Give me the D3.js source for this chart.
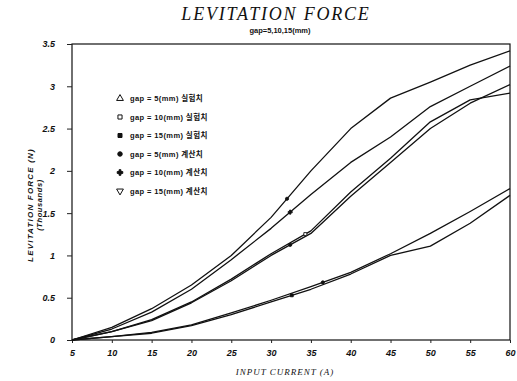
<!DOCTYPE html>
<html>
<head>
<meta charset="utf-8">
<script src="https://cdn.jsdelivr.net/npm/d3@7"></script>
<style>
  body { margin: 0; background: #fff; }
  svg { display: block; }
  .tick text { font-family: "Liberation Sans", sans-serif; font-weight: bold; font-style: italic; font-size: 9px; }
</style>
</head>
<body>
<div id="chart"></div>
<script>
// input current (A)
const current = [5, 10, 15, 20, 25, 30, 35, 40, 45, 50, 55, 60]
// levitation force (N, thousands)
const gap5Calc  = [0, 0.15, 0.37, 0.65, 1.0, 1.45, 2.0, 2.5, 2.86, 3.05, 3.25, 3.42]
const gap10Calc = [0, 0.13, 0.33, 0.6, 0.95, 1.32, 1.72, 2.1, 2.4, 2.76, 3.0, 3.24]
const gap10Exp  = [0, 0.1, 0.24, 0.45, 0.72, 1.02, 1.29, 1.75, 2.15, 2.58, 2.84, 2.92]
const gap5Exp   = [0, 0.1, 0.23, 0.44, 0.7, 1.0, 1.26, 1.7, 2.1, 2.5, 2.8, 3.02]
const gap15Exp  = [0, 0.04, 0.08, 0.17, 0.3, 0.45, 0.6, 0.78, 1.0, 1.11, 1.38, 1.71]
const gap15Calc = [0, 0.04, 0.09, 0.18, 0.32, 0.47, 0.63, 0.8, 1.02, 1.26, 1.52, 1.79]
// where a symbol sits on each curve (A)
const markAt = { gap5Calc: 32, gap10Calc: 32.4, gap10Exp: 34.3, gap5Exp: 32.4, gap15Exp: 32.6, gap15Calc: 36.5 }
const xTicks = [5, 10, 15, 20, 25, 30, 35, 40, 45, 50, 55, 60]
const yTicks = [0, 0.5, 1, 1.5, 2, 2.5, 3, 3.5]
const legendLabels = [
  ['triangle', 'gap = 5(mm) 실험치'],
  ['square', 'gap = 10(mm) 실험치'],
  ['squareFill', 'gap = 15(mm) 실험치'],
  ['dot', 'gap = 5(mm) 계산치'],
  ['cross', 'gap = 10(mm) 계산치'],
  ['triangleDown', 'gap = 15(mm) 계산치']
]

const series = [
  { key: 'gap5Calc', values: gap5Calc, sym: 'dot' },
  { key: 'gap10Calc', values: gap10Calc, sym: 'cross' },
  { key: 'gap10Exp', values: gap10Exp, sym: 'square' },
  { key: 'gap5Exp', values: gap5Exp, sym: 'dot' },
  { key: 'gap15Exp', values: gap15Exp, sym: 'squareFill' },
  { key: 'gap15Calc', values: gap15Calc, sym: 'dot' }
]

const W = 517, H = 381
const margin = { left: 72, right: 7, top: 44, bottom: 41 }

const svg = d3.select('#chart').append('svg').attr('width', W).attr('height', H)

const x = d3.scaleLinear().domain([5, 60]).range([margin.left, W - margin.right])
const y = d3.scaleLinear().domain([0, 3.5]).range([H - margin.bottom, margin.top])

// frame
svg.append('rect')
  .attr('x', x(5)).attr('y', y(3.5))
  .attr('width', x(60) - x(5)).attr('height', y(0) - y(3.5))
  .attr('fill', 'none').attr('stroke', '#111').attr('stroke-width', 1.2)

const fmt = d => d3.format('~g')(d)

svg.append('g')
  .attr('transform', `translate(0,${y(0)})`)
  .call(d3.axisBottom(x).tickValues(xTicks).tickSize(3).tickPadding(7).tickFormat(fmt))
  .call(g => g.select('.domain').remove())
  .call(g => g.selectAll('.tick line').attr('stroke', '#222'))
  .call(g => g.selectAll('.tick text').attr('fill', '#111'))

svg.append('g')
  .attr('transform', `translate(${x(5)},0)`)
  .call(d3.axisLeft(y).tickValues(yTicks).tickSize(5).tickPadding(12).tickFormat(fmt))
  .call(g => g.select('.domain').remove())
  .call(g => g.selectAll('.tick line').attr('stroke', '#222'))
  .call(g => g.selectAll('.tick text').attr('fill', '#111'))

// curves
const line = d3.line()
  .x((d, i) => x(current[i]))
  .y(d => y(d))

svg.append('g').selectAll('path').data(series).join('path')
  .attr('d', d => line(d.values))
  .attr('fill', 'none')
  .attr('stroke', '#111')
  .attr('stroke-width', 1.3)
  .attr('stroke-linejoin', 'round')

const symType = {
  dot: d3.symbolCircle, cross: d3.symbolCross, square: d3.symbolSquare,
  squareFill: d3.symbolSquare, triangle: d3.symbolTriangle, triangleDown: d3.symbolTriangle
}
const symSize = { dot: 8, cross: 9, square: 9, squareFill: 8, triangle: 12, triangleDown: 12 }
const symFill = s => (s === 'square' || s === 'triangle' || s === 'triangleDown') ? '#fff' : '#111'
const symRot = s => s === 'triangleDown' ? 180 : 0

const interp = (vals, c) => {
  const i = d3.bisectRight(current, c) - 1
  const t = (c - current[i]) / (current[i + 1] - current[i])
  return vals[i] + t * (vals[i + 1] - vals[i])
}

svg.append('g').selectAll('path').data(series).join('path')
  .attr('d', d => d3.symbol(symType[d.sym], symSize[d.sym])())
  .attr('transform', d => `translate(${x(markAt[d.key])},${y(interp(d.values, markAt[d.key]))})`)
  .attr('fill', d => symFill(d.sym))
  .attr('stroke', '#111')
  .attr('stroke-width', 0.9)

// legend
const lg = svg.append('g').attr('transform', 'translate(120,98.5)')
const rows = lg.selectAll('g').data(legendLabels).join('g')
  .attr('transform', (d, i) => `translate(0,${i * 18.5})`)
rows.append('path')
  .attr('d', d => d3.symbol(symType[d[0]], symSize[d[0]] + 8)())
  .attr('transform', d => `rotate(${symRot(d[0])})`)
  .attr('fill', d => symFill(d[0]))
  .attr('stroke', '#111')
  .attr('stroke-width', 1)
rows.append('text')
  .attr('x', 10).attr('dy', '0.35em')
  .attr('font-family', '"Liberation Sans", "Noto Sans CJK KR", sans-serif')
  .attr('font-weight', 'bold')
  .attr('font-size', 7.5)
  .attr('letter-spacing', 0.4)
  .attr('fill', '#111')
  .text(d => d[1])

// titles
svg.append('text')
  .attr('x', 276).attr('y', 20)
  .attr('text-anchor', 'middle')
  .attr('font-family', '"Liberation Serif", serif')
  .attr('font-style', 'italic')
  .attr('font-size', 18)
  .attr('letter-spacing', 1.8)
  .attr('fill', '#111')
  .text('LEVITATION FORCE')

svg.append('text')
  .attr('x', 280).attr('y', 33)
  .attr('text-anchor', 'middle')
  .attr('font-family', '"Liberation Sans", sans-serif')
  .attr('font-weight', 'bold')
  .attr('font-size', 7.5)
  .attr('fill', '#111')
  .text('gap=5,10,15(mm)')

svg.append('text')
  .attr('x', 285).attr('y', 375)
  .attr('text-anchor', 'middle')
  .attr('font-family', '"Liberation Serif", serif')
  .attr('font-style', 'italic')
  .attr('font-size', 9)
  .attr('letter-spacing', 1)
  .attr('fill', '#111')
  .text('INPUT CURRENT (A)')

const yl = svg.append('text')
  .attr('transform', 'translate(33,205) rotate(-90)')
  .attr('text-anchor', 'middle')
  .attr('font-family', '"Liberation Sans", sans-serif')
  .attr('font-weight', 'bold')
  .attr('font-style', 'italic')
  .attr('font-size', 8)
  .attr('letter-spacing', 1.2)
  .attr('fill', '#111')
yl.append('tspan').attr('x', 0).attr('dy', 0).text('LEVITATION FORCE (N)')
yl.append('tspan').attr('x', 0).attr('dy', 9).attr('font-size', 7.5).attr('letter-spacing', 0.6).text('(Thousands)')
</script>
</body>
</html>
